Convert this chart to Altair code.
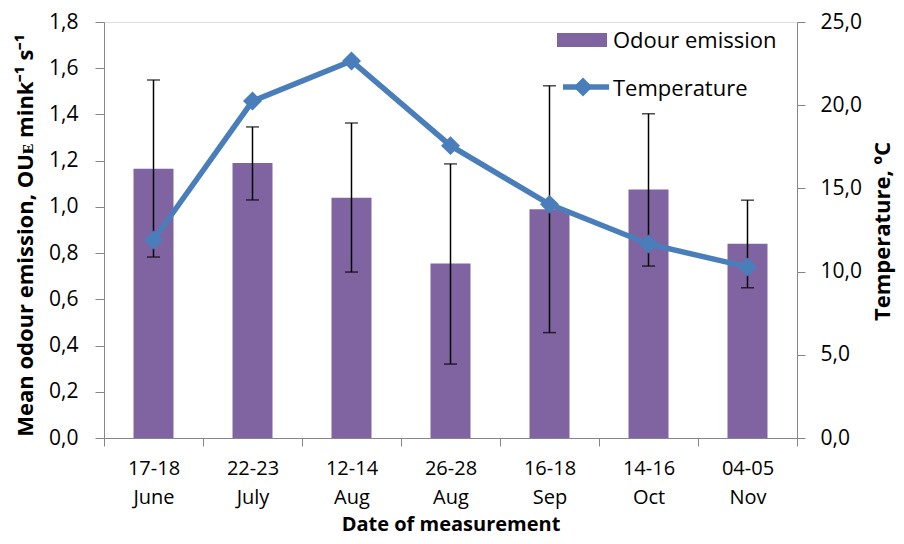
import altair as alt
import pandas as pd

dates = ["17-18 June", "22-23 July", "12-14 Aug", "26-28 Aug", "16-18 Sep", "14-16 Oct", "04-05 Nov"]
odour = [1.165, 1.19, 1.04, 0.755, 0.99, 1.075, 0.84]
err_low = [0.783, 1.03, 0.718, 0.32, 0.456, 0.744, 0.65]
err_high = [1.549, 1.346, 1.363, 1.186, 1.524, 1.403, 1.029]
temperature = [11.9, 20.25, 22.66, 17.57, 14.04, 11.66, 10.28]
legend_labels = ["Odour emission", "Temperature"]

df = pd.DataFrame({"date": dates, "odour": odour, "lo": err_low, "hi": err_high, "temp": temperature})

FONT = "Open Sans"
LS = 21   # label size
TS = 22   # title size
BAR = "#8064A2"
LINE = "#4A7EBB"
AX = "#868686"

xenc = alt.X("date:N", sort=dates, scale=alt.Scale(paddingInner=0, paddingOuter=0),
             axis=alt.Axis(title="Date of measurement", labelExpr="split(datum.label, ' ')",
                           labelAngle=0, tickBand="extent", tickSize=8, labelPadding=28,
                           labelBaseline="alphabetic", labelLineHeight=29, labelFontSize=20,
                           titleFontSize=20, titleFontWeight="bold", titleY=92,
                           titleBaseline="alphabetic",
                           domainColor=AX, tickColor=AX, labelColor="black"))

yleft = alt.Scale(domain=[0, 1.8], nice=False)
yright = alt.Scale(domain=[0, 25], nice=False)

bars = alt.Chart(df).mark_bar(size=40, color=BAR).encode(
    x=xenc,
    y=alt.Y("odour:Q", scale=yleft,
            axis=alt.Axis(title="Mean odour emission, OUᴇ mink⁻¹ s⁻¹", values=[i/5 for i in range(10)],
                          labelExpr="replace(format(datum.value, '.1f'), '.', ',')",
                          grid=False, tickSize=9, labelPadding=17, labelFontSize=LS,
                          titleFontSize=TS, titleFontWeight="bold", titleAngle=270,
                          titleX=-72, titleY=213, titleAlign="center", titleBaseline="alphabetic",
                          domainColor=AX, tickColor=AX, labelColor="black")),
)

rules = alt.Chart(df).mark_rule(color="black", strokeWidth=1.5).encode(
    x=alt.X("date:N", sort=dates), y=alt.Y("lo:Q", scale=yleft), y2="hi:Q")
cap_hi = alt.Chart(df).mark_tick(color="black", thickness=1.5, size=13, orient="horizontal").encode(
    x=alt.X("date:N", sort=dates), y=alt.Y("hi:Q", scale=yleft))
cap_lo = alt.Chart(df).mark_tick(color="black", thickness=1.5, size=13, orient="horizontal").encode(
    x=alt.X("date:N", sort=dates), y=alt.Y("lo:Q", scale=yleft))

left = alt.layer(bars, rules, cap_hi, cap_lo)

yr = alt.Y("temp:Q", scale=yright,
           axis=alt.Axis(title="Temperature, ºC", orient="right", values=[0, 5, 10, 15, 20, 25],
                         labelExpr="replace(format(datum.value, '.1f'), '.', ',')",
                         grid=False, tickSize=8, labelPadding=15, labelFontSize=LS,
                         titleFontSize=TS, titleFontWeight="bold", titleAngle=270,
                         titleX=92, titleY=209, titleAlign="center", titleBaseline="alphabetic",
                         domainColor=AX, tickColor=AX, labelColor="black"))
line = alt.Chart(df).mark_line(color=LINE, strokeWidth=5.5).encode(x=alt.X("date:N", sort=dates), y=yr)
pts = alt.Chart(df).mark_point(shape="diamond", filled=True, size=360, color=LINE, opacity=1).encode(
    x=alt.X("date:N", sort=dates), y=yr)
right = alt.layer(line, pts)

# legend
leg0 = pd.DataFrame({"label": [legend_labels[0]]})
leg1 = pd.DataFrame({"label": [legend_labels[1]]})
leg_rect = alt.Chart(leg0).mark_rect(color=BAR).encode(
    x=alt.value(453), x2=alt.value(503), y=alt.value(11), y2=alt.value(25))
leg_line = alt.Chart(leg1).mark_rule(color=LINE, strokeWidth=5.5).encode(
    x=alt.value(459), x2=alt.value(505), y=alt.value(65))
leg_pt = alt.Chart(leg1).mark_point(shape="diamond", filled=True, size=360, color=LINE, opacity=1).encode(
    x=alt.value(479), y=alt.value(65))
leg_txt0 = alt.Chart(leg0).mark_text(align="left", baseline="alphabetic", fontSize=22, font=FONT, color="black").encode(
    x=alt.value(509), y=alt.value(26), text="label:N")
leg_txt1 = alt.Chart(leg1).mark_text(align="left", baseline="alphabetic", fontSize=22, font=FONT, color="black").encode(
    x=alt.value(509), y=alt.value(74), text="label:N")
legend = alt.layer(leg_rect, leg_line, leg_pt, leg_txt0, leg_txt1)

chart = alt.layer(left, right, legend).resolve_scale(y="independent").properties(
    width=693, height=416,
    autosize=alt.AutoSizeParams(type="none"),
    padding={"left": 96, "top": 14, "right": 99, "bottom": 98},
).configure_view(stroke=None).configure(font=FONT)

chart.save("out.html", embed_options={"renderer": "svg", "actions": False})
